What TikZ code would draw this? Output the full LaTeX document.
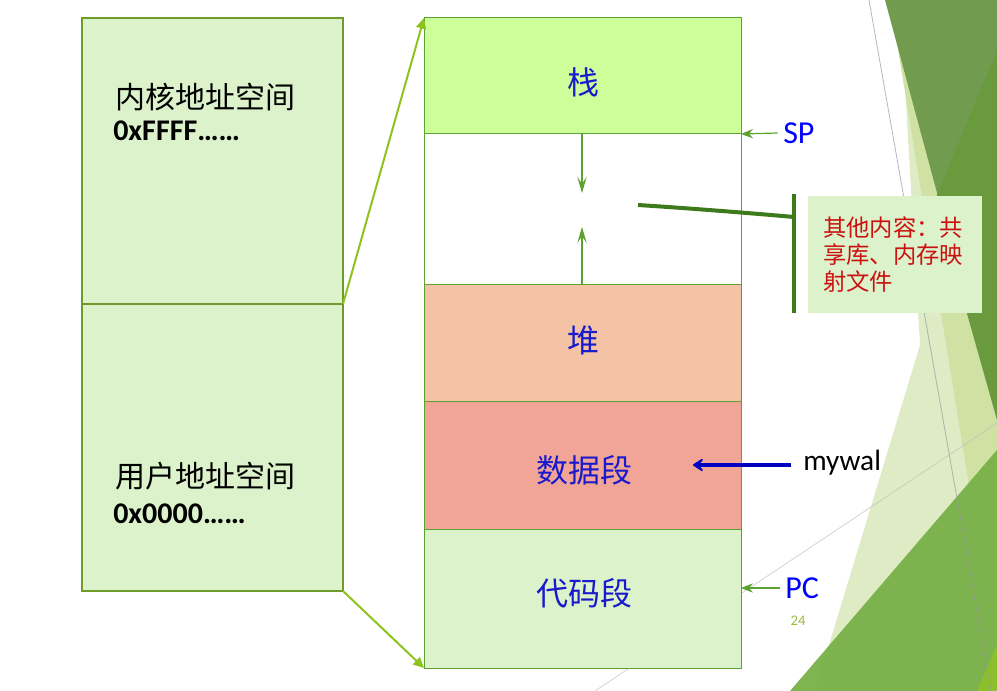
\documentclass[tikz,border=0pt]{standalone}
\usepackage{fontspec}
\setmainfont{Carlito}
\newfontfamily\cjk{Noto Sans CJK SC}
\usetikzlibrary{arrows.meta}
\definecolor{bgpale}{HTML}{DEEBC5}
\definecolor{bgmid}{HTML}{CFE1A3}
\definecolor{bgdark}{HTML}{719B4F}
\definecolor{bgdark2}{HTML}{699A3E}
\definecolor{bggreen}{HTML}{78B148}
\definecolor{bgyellow}{HTML}{8CBF2C}
\definecolor{boxfill}{HTML}{DBF2CB}
\definecolor{boxborder}{HTML}{6E9B2A}
\definecolor{segborder}{HTML}{5DA130}
\definecolor{stackfill}{HTML}{CCFF99}
\definecolor{heapfill}{HTML}{F4C3A5}
\definecolor{datafill}{HTML}{F1A597}
\definecolor{arrowyg}{HTML}{8DC21F}
\definecolor{labelblue}{HTML}{1A1ACC}
\definecolor{ptrblue}{HTML}{0000FF}
\definecolor{mywalblue}{HTML}{0000C0}
\definecolor{bracketgreen}{HTML}{3D7A1C}
\definecolor{calloutred}{HTML}{CC1111}
\definecolor{pagenum}{HTML}{9BBB3B}
\begin{document}
\begin{tikzpicture}[x=0.75pt,y=-0.75pt,
  halfbox/.style={draw=boxborder,line width=1.8pt,fill=boxfill,minimum width=195.75pt,anchor=north west,inner sep=0pt,outer sep=0pt},
  seg/.style={draw=segborder,line width=0.75pt,minimum width=237.75pt,anchor=north west,inner sep=0pt,outer sep=0pt},
  seglabel/.style={font=\cjk\fontsize{24}{28}\selectfont,text=labelblue,inner sep=0pt},
  zhtext/.style={font=\cjk\fontsize{22.5}{27}\selectfont,anchor=west,inner sep=0pt},
  hextext/.style={font=\bfseries\fontsize{22.5}{27}\selectfont,anchor=west,inner sep=0pt},
  ptrtext/.style={font=\fontsize{24}{28}\selectfont,text=ptrblue,anchor=west,inner sep=0pt},
  bigarrow/.style={draw=arrowyg,line width=1.5pt,-{Triangle[length=8pt,width=7.5pt]}},
  ptrarrow/.style={draw=segborder,line width=0.9pt,-{Stealth[length=9pt,width=7pt,inset=3pt]}},
  gaparrow/.style={draw=segborder,line width=0.9pt,-{Stealth[length=12pt,width=7pt,inset=5pt]}}
]
\useasboundingbox (0,0) rectangle (997,691);
% background facets
\fill[bgpale] (900,0) -- (997,0) -- (997,691) -- (815,691) -- (920,345) -- cycle;
\fill[bgmid] (890,0) -- (997,0) -- (997,657) -- cycle;
\fill[bgdark] (885,0) -- (997,0) -- (997,415) -- cycle;
\fill[bgdark2] (997,50) -- (997,420) -- (935,200) -- cycle;
\fill[bggreen,opacity=0.95] (997,450) -- (997,691) -- (790,691) -- cycle;
\fill[bgyellow] (977,691) -- (997,691) -- (997,645) -- cycle;
\draw[black!40,opacity=0.7,line width=0.6pt] (869,0) -- (991,691);
\draw[black!25,opacity=0.7,line width=0.6pt] (595,691) -- (997,423);

% left address space
\node[halfbox,minimum height=214.5pt] (kernel) at (82,18) {};
\node[halfbox,minimum height=215.25pt] (user) at (82,304) {};
\node[zhtext] (kzh) at (115,97) {内核地址空间};
\node[hextext] (khex) at (113,131) {0xFFFF……};
\node[zhtext] (uzh) at (115,476) {用户地址空间};
\node[hextext] (uhex) at (113,514) {0x0000……};

% process memory column
\node[seg,fill=stackfill,minimum height=87pt] (stack) at (424,18) {};
\node[seg,fill=white,minimum height=113.25pt] (gap) at (424,134) {};
\node[seg,fill=heapfill,minimum height=87.75pt] (heap) at (424,285) {};
\node[seg,fill=datafill,minimum height=96pt] (data) at (424,402) {};
\node[seg,fill=boxfill,minimum height=103.5pt] (code) at (424,530) {};
\node[seglabel] (lstack) at (583,82) {栈};
\node[seglabel] (lheap) at (583,340) {堆};
\node[seglabel] (ldata) at (584,470) {数据段};
\node[seglabel] (lcode) at (584,593) {代码段};

% growth arrows
\coordinate (stackgrow) at (582,193);
\coordinate (heapgrow) at (582,227);
\draw[gaparrow] (stack.south -| stackgrow) -- (stackgrow);
\draw[gaparrow] (heap.north -| heapgrow) -- (heapgrow);

% mapping arrows
\draw[bigarrow] (kernel.south east) -- (stack.north west);
\draw[bigarrow] (user.south east) -- (code.south west);

% SP / PC
\node[ptrtext] (sp) at (783,133) {SP};
\node[ptrtext] (pc) at (785,588) {PC};
\draw[ptrarrow] ([xshift=-4pt]sp.west) -- (stack.south east);
\draw[ptrarrow] ([xshift=-4pt]pc.west) -- (pc.west -| code.east);

% mywal
\node[font=\fontsize{22}{26}\selectfont,anchor=west,inner sep=0pt] (mywal) at (803,463) {mywal};
\coordinate (mywaltip) at (693,465);
\draw[draw=mywalblue,line width=2.4pt,-{Stealth[length=10pt,width=13pt,inset=5pt,round]}] ([xshift=-9pt]mywal.west |- mywaltip) -- (mywaltip);

% callout
\coordinate (brstart) at (638,205);
\coordinate (brtop) at (794,194);
\coordinate (brbot) at (794,313);
\draw[bracketgreen,line width=3pt] (brstart) .. controls (700,209) and (760,214) .. (794,217);
\draw[bracketgreen,line width=3pt] (brtop) -- (brbot);
\node[fill=boxfill,anchor=north west,minimum width=130.5pt,minimum height=87.75pt,inner xsep=11.25pt,inner ysep=0pt,outer sep=0pt,text width=108pt,align=left,text=calloutred,font=\cjk\fontsize{17.5}{20.25}\selectfont] (callout) at (808,196) {其他内容：共\\享库、内存映\\射文件};

% page number
\node[font=\fontsize{11}{13}\selectfont,text=pagenum,inner sep=0pt] (pnum) at (798,621) {24};
\end{tikzpicture}
\end{document}
